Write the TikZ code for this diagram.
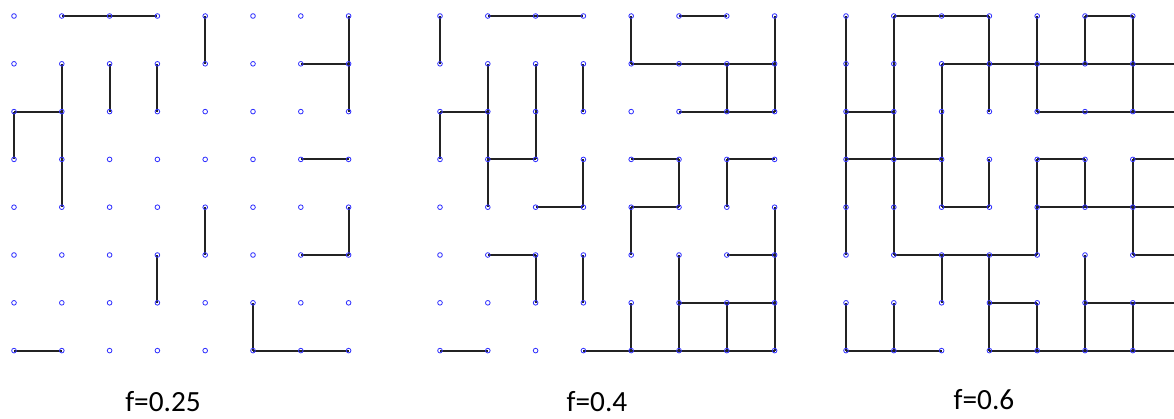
\documentclass[tikz,border=0pt]{standalone}
\usepackage{fontspec}
\setmainfont{Carlito}
\definecolor{siteblue}{RGB}{50,50,255}
\definecolor{bondgray}{RGB}{35,35,35}
\pgfdeclarelayer{bonds}
\pgfsetlayers{bonds,main}

\begin{document}
\begin{tikzpicture}[x=0.03cm, y=-0.03cm,
  site/.style={circle, draw=siteblue, line width=0.7pt, inner sep=0pt,
               minimum size=0.14cm},
  bond/.style={draw=bondgray, line width=1.6pt},
  flabel/.style={font=\fontsize{25}{30}\selectfont, anchor=base}
]
\useasboundingbox (0,0) rectangle (1174,418);
\clip (0,0) rectangle (1174,418);

% Lattice sites
\foreach \g/\ox in {a/14, b/440, c/846}
  \foreach \i in {0,...,7}
    \foreach \j in {0,...,7}
      \node[site] (\g-\i-\j) at (\ox+47.8*\i, 16+47.8*\j) {};

% Occupied bonds
\begin{pgfonlayer}{bonds}
% f=0.25
\foreach \i/\j [evaluate=\i as \k using int(\i+1)] in
  {1/0, 2/0, 6/1, 0/2, 6/3, 6/5, 0/7, 5/7, 6/7}
  \draw[bond] (a-\i-\j.center) -- (a-\k-\j.center);
\foreach \i/\j [evaluate=\j as \k using int(\j+1)] in
  {4/0, 7/0, 1/1, 2/1, 3/1, 7/1, 0/2, 1/2, 1/3, 4/4, 7/4, 3/5, 5/6}
  \draw[bond] (a-\i-\j.center) -- (a-\i-\k.center);

% f=0.4
\foreach \i/\j [evaluate=\i as \k using int(\i+1)] in
  {1/0, 2/0, 5/0, 4/1, 5/1, 6/1, 0/2, 5/2, 6/2, 1/3, 4/3, 6/3, 2/4, 4/4,
   1/5, 6/5, 5/6, 6/6, 0/7, 3/7, 4/7, 5/7, 6/7}
  \draw[bond] (b-\i-\j.center) -- (b-\k-\j.center);
\foreach \i/\j [evaluate=\j as \k using int(\j+1)] in
  {0/0, 4/0, 7/0, 1/1, 2/1, 3/1, 6/1, 7/1, 0/2, 1/2, 2/2, 1/3, 3/3, 5/3,
   6/3, 4/4, 7/4, 2/5, 3/5, 5/5, 7/5, 4/6, 5/6, 6/6, 7/6}
  \draw[bond] (b-\i-\j.center) -- (b-\i-\k.center);

% f=0.6
\foreach \i/\j [evaluate=\i as \k using int(\i+1)] in
  {1/0, 2/0, 5/0, 2/1, 3/1, 4/1, 5/1, 6/1, 0/2, 4/2, 5/2, 6/2, 0/3, 1/3,
   4/3, 6/3, 2/4, 4/4, 5/4, 6/4, 1/5, 2/5, 3/5, 6/5, 3/6, 5/6, 6/6,
   0/7, 1/7, 3/7, 4/7, 5/7, 6/7}
  \draw[bond] (c-\i-\j.center) -- (c-\k-\j.center);
\foreach \i/\j [evaluate=\j as \k using int(\j+1)] in
  {0/0, 1/0, 3/0, 4/0, 5/0, 6/0, 0/1, 1/1, 2/1, 3/1, 4/1, 6/1, 0/2, 1/2,
   2/2, 0/3, 1/3, 2/3, 3/3, 4/3, 5/3, 6/3, 0/4, 1/4, 4/4, 6/4, 2/5, 3/5,
   5/5, 0/6, 1/6, 3/6, 4/6, 5/6, 6/6}
  \draw[bond] (c-\i-\j.center) -- (c-\i-\k.center);
\end{pgfonlayer}

% Labels
\node[flabel] (fa) at (163,411) {f=0.25};
\node[flabel] (fb) at (597,411) {f=0.4};
\node[flabel] (fc) at (984,409) {f=0.6};
\end{tikzpicture}
\end{document}
